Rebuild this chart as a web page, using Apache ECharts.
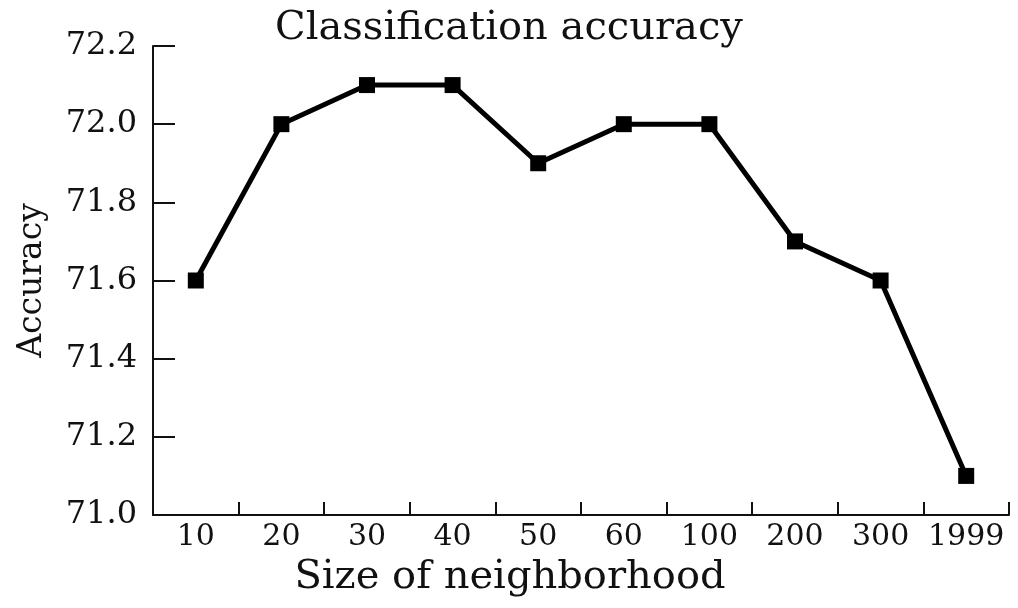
<!DOCTYPE html>
<html>
<head>
<meta charset="utf-8">
<script src="https://cdn.jsdelivr.net/npm/echarts@6/dist/echarts.min.js"></script>
<style>
  html, body { margin: 0; padding: 0; background: #fff; }
  #chart { width: 1018px; height: 608px; }
</style>
</head>
<body>
<div id="chart"></div>
<script>
// Neighbourhood sizes on the x axis and the accuracy reached for each
const neighborhoodSizes = ['10', '20', '30', '40', '50', '60', '100', '200', '300', '1999'];
const accuracyValues = [71.6, 72.0, 72.1, 72.1, 71.9, 72.0, 72.0, 71.7, 71.6, 71.1];

const FONT = '"DejaVu Serif", "Liberation Serif", serif';

const chart = echarts.init(document.getElementById('chart'), null, { renderer: 'canvas' });

chart.setOption({
  backgroundColor: '#ffffff',
  animation: false,
  title: {
    text: 'Classification accuracy',
    left: 'center',
    top: 4,
    textStyle: { fontFamily: FONT, fontSize: 40, fontWeight: 'normal', color: '#111' }
  },
  grid: { left: 153, right: 9, top: 46, bottom: 93 },
  xAxis: {
    type: 'category',
    data: neighborhoodSizes,
    boundaryGap: true,
    name: 'Size of neighborhood',
    nameLocation: 'middle',
    nameGap: 43,
    // the axis title sits centred on the page rather than on the plot
    nameTextStyle: { fontFamily: FONT, fontSize: 40, color: '#111', padding: [0, 142, 0, 0] },
    axisLine: { show: true, lineStyle: { color: '#111', width: 2 } },
    axisTick: {
      show: true, inside: true, length: 13, interval: 0, alignWithLabel: false,
      lineStyle: { color: '#111', width: 2 }
    },
    axisLabel: { fontFamily: FONT, fontSize: 30, color: '#111', margin: 7, interval: 0 },
    splitLine: { show: false }
  },
  yAxis: {
    type: 'value',
    min: 71.0,
    max: 72.2,
    interval: 0.2,
    name: 'Accuracy',
    nameLocation: 'middle',
    nameGap: 104,
    nameTextStyle: { fontFamily: FONT, fontSize: 33, color: '#111' },
    axisLine: { show: true, lineStyle: { color: '#111', width: 2 } },
    axisTick: { show: true, inside: true, length: 22, lineStyle: { color: '#111', width: 2 } },
    axisLabel: {
      fontFamily: FONT, fontSize: 32, color: '#111', margin: 16,
      formatter: v => v.toFixed(1)
    },
    splitLine: { show: false }
  },
  series: [{
    type: 'line',
    data: accuracyValues,
    symbol: 'rect',
    symbolSize: 16,
    lineStyle: { color: '#000', width: 5 },
    itemStyle: { color: '#000' }
  }]
});
</script>
</body>
</html>
